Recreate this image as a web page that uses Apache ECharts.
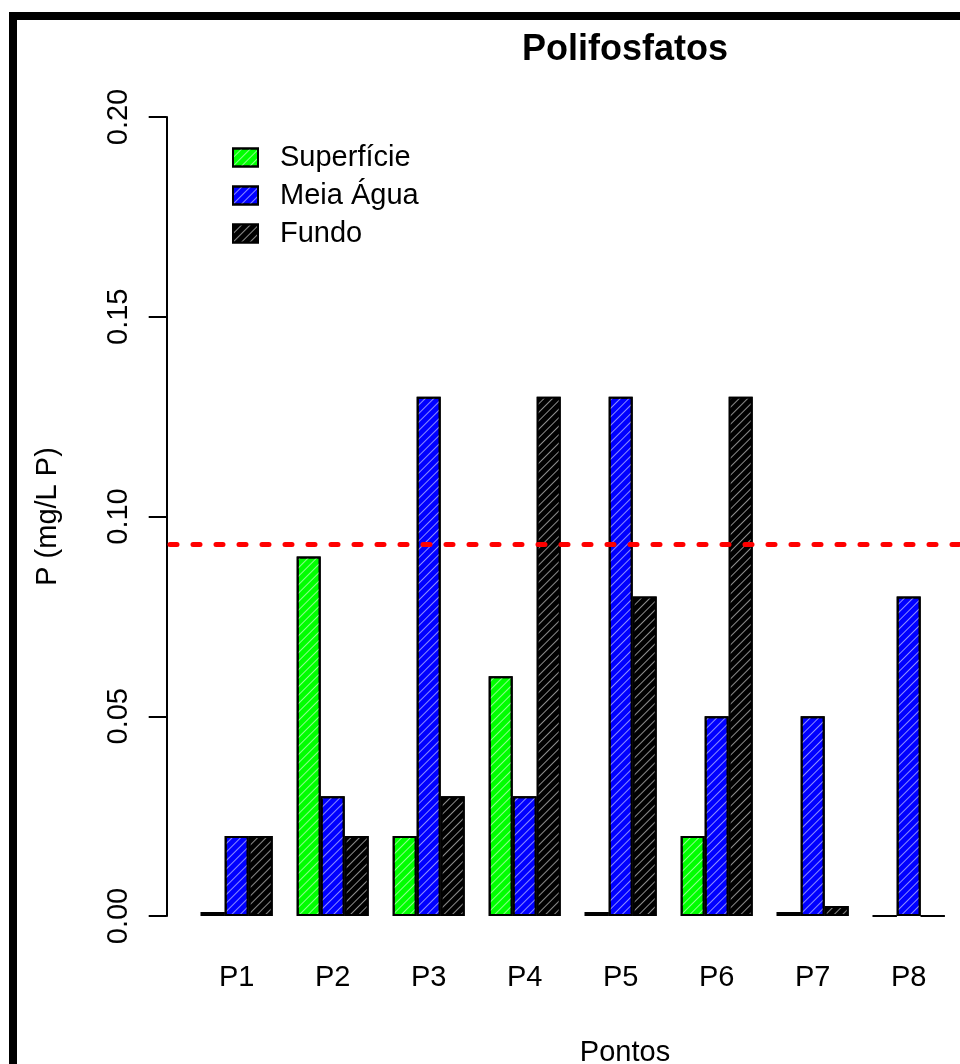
<!DOCTYPE html>
<html>
<head>
<meta charset="utf-8">
<script src="https://cdn.jsdelivr.net/npm/echarts@6/dist/echarts.min.js"></script>
<style>
  html, body { margin: 0; padding: 0; background: #fff; }
  #chart { width: 960px; height: 1064px; }
</style>
</head>
<body>
<div id="chart"></div>
<script>
// Sampling points and phosphate concentrations (mg/L P) per depth
const pontos = ['P1', 'P2', 'P3', 'P4', 'P5', 'P6', 'P7', 'P8'];
const superficie = [0.001, 0.09, 0.02, 0.06, 0.001, 0.02, 0.001, 0];
const meiaAgua   = [0.02, 0.03, 0.13, 0.03, 0.13, 0.05, 0.05, 0.08];
const fundo      = [0.02, 0.02, 0.03, 0.13, 0.08, 0.13, 0.0025, 0];
const limite = 0.093;          // reference limit drawn as dashed red line
const yTicks = [0, 0.05, 0.10, 0.15, 0.20];

const FONT = 'Liberation Sans, Arial, sans-serif';

// diagonal hatch ("/") drawn over each bar fill
const hatch = {
  symbol: 'rect',
  symbolSize: 1,
  dashArrayX: [1, 0],
  dashArrayY: [1, 5],
  rotation: -Math.PI / 4,
  color: 'rgba(255,255,255,0.55)'
};

function barSeries(name, data, color) {
  return {
    name: name,
    type: 'bar',
    xAxisIndex: 0,
    yAxisIndex: 0,
    data: data,
    barGap: '0%',
    barCategoryGap: '25%',
    itemStyle: { color: color, borderColor: '#000', borderWidth: 2, decal: hatch },
    emphasis: { disabled: true }
  };
}

const chart = echarts.init(document.getElementById('chart'), null, { renderer: 'canvas' });

chart.setOption({
  animation: false,
  backgroundColor: '#fff',
  title: [
    {
      text: 'Polifosfatos',
      left: 620, top: 27, textAlign: 'center',
      textStyle: { fontFamily: FONT, fontSize: 36, fontWeight: 'bold', color: '#000' }
    },
    {
      text: 'Pontos',
      left: 620, top: 1033, textAlign: 'center',
      textStyle: { fontFamily: FONT, fontSize: 29, fontWeight: 'normal', color: '#000' }
    }
  ],
  legend: {
    orient: 'vertical',
    left: 227, top: 138,
    itemWidth: 25, itemHeight: 18, itemGap: 9,
    icon: 'rect',
    data: ['Superfície', 'Meia Água', 'Fundo'],
    textStyle: { fontFamily: FONT, fontSize: 29, color: '#000', padding: [0, 0, 0, 17] },
    selectedMode: false
  },
  graphic: [
    {
      type: 'rect',
      shape: { x: 13, y: 16, width: 2000, height: 2000 },
      style: { fill: 'none', stroke: '#000', lineWidth: 8 },
      silent: true
    }
  ],
  grid: [
    { left: 188.7, right: 3.3, top: 117, height: 799 },
    { left: 170, right: 0, top: 117, height: 799 }
  ],
  xAxis: [
    {
      type: 'category', gridIndex: 0, data: pontos,
      axisLine: { show: false }, axisTick: { show: false },
      axisLabel: { fontFamily: FONT, fontSize: 29, color: '#000', margin: 47 }
    },
    { type: 'value', gridIndex: 1, min: 0, max: 1, show: false }
  ],
  yAxis: [
    {
      type: 'value', gridIndex: 0, min: 0, max: 0.2, interval: 0.05,
      offset: 22,
      name: 'P (mg/L P)', nameLocation: 'middle', nameGap: 104,
      nameTextStyle: { fontFamily: FONT, fontSize: 29, color: '#000' },
      axisLine: { show: true, lineStyle: { color: '#000', width: 2 } },
      axisTick: { show: true, length: 18, lineStyle: { color: '#000', width: 2 } },
      axisLabel: {
        rotate: 90, margin: 33, fontFamily: FONT, fontSize: 29, color: '#000',
        formatter: v => yTicks.find(t => Math.abs(t - v) < 1e-9).toFixed(2)
      },
      splitLine: { show: false }
    },
    { type: 'value', gridIndex: 1, min: 0, max: 0.2, show: false }
  ],
  series: [
    barSeries('Superfície', superficie, '#00ff00'),
    barSeries('Meia Água', meiaAgua, '#0000ff'),
    barSeries('Fundo', fundo, '#000000'),
    {
      type: 'line', xAxisIndex: 1, yAxisIndex: 1,
      data: [[0, limite], [1, limite]],
      symbol: 'none', silent: true,
      lineStyle: { color: '#ff0000', width: 5, type: [7, 16], cap: 'round' },
      z: 5
    }
  ]
});
</script>
</body>
</html>
